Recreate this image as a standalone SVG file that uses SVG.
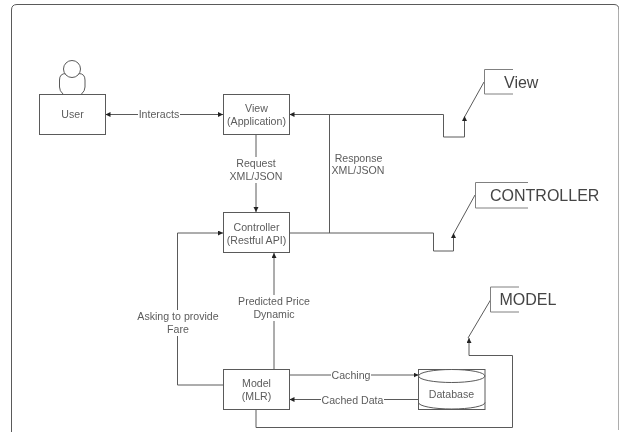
<svg xmlns="http://www.w3.org/2000/svg" width="622" height="432" viewBox="0 0 622 432">
<style>
.n{fill:#fff;stroke:#5a5a5a;stroke-width:1}
.c{fill:none;stroke:#5a5a5a;stroke-width:1}
.t{font-family:"Liberation Sans",Arial,sans-serif;font-size:10.6px;fill:#5c5c5c;text-anchor:middle}
.w{fill:#fff}
.big{font-family:"Liberation Sans",Arial,sans-serif;font-size:16px;fill:#444}
.b{fill:none;stroke:#808080;stroke-width:1}
</style>
<defs>
<marker id="a" markerWidth="6" markerHeight="6" refX="5" refY="2.5" orient="auto" markerUnits="userSpaceOnUse"><path d="M0 0L5 2.5L0 5z" fill="#222"/></marker>
<marker id="s" markerWidth="6" markerHeight="6" refX="0" refY="2.5" orient="auto" markerUnits="userSpaceOnUse"><path d="M5 0L0 2.5L5 5z" fill="#222"/></marker>
<filter id="soft" x="0" y="0" width="100%" height="100%"><feGaussianBlur stdDeviation="0.45"/></filter>
</defs>
<rect width="622" height="432" fill="#fff"/>
<g filter="url(#soft)">
<path d="M11.5 432V10Q11.5 4.500 17 4.500H614Q619 4.500 619 10V430" class="c"/>
<g id="connectors">
<path class="c" d="M105.500 114.500H223" marker-start="url(#s)" marker-end="url(#a)"/>
<path class="c" d="M256 134.500V212" marker-end="url(#a)"/>
<path class="c" d="M443.500 114.500H289.500" marker-end="url(#a)"/>
<path class="c" d="M443.500 114.500V137H464.500V116" marker-end="url(#a)"/>
<path class="c" d="M329.500 114.500V233"/>
<path class="c" d="M289.500 233H433.500V251H453.500V233" marker-end="url(#a)"/>
<path class="c" d="M223 385H177.500V233H223" marker-end="url(#a)"/>
<path class="c" d="M274 369V253" marker-end="url(#a)"/>
<path class="c" d="M289.500 375H418.500" marker-end="url(#a)"/>
<path class="c" d="M418.500 399.500H289.500" marker-end="url(#a)"/>
<path class="c" d="M256 409V427.500H512.500V355.500H469V338" marker-end="url(#a)"/>
<path class="c" d="M464.500 117L484 82"/>
<path class="c" d="M453.500 234L475 195"/>
<path class="c" d="M468 338L490.500 300"/>
</g>
<rect class="w" x="138" y="108" width="42" height="13"/>
<text class="t" x="159" y="118">Interacts</text>
<rect class="w" x="229" y="157" width="54" height="26"/>
<text class="t" x="256" y="167">Request</text>
<text class="t" x="256" y="180">XML/JSON</text>
<text class="t" x="358.500" y="161.500">Response</text>
<text class="t" x="358" y="174">XML/JSON</text>
<rect class="w" x="137" y="310" width="82" height="26"/>
<text class="t" x="178" y="320">Asking to provide</text>
<text class="t" x="178" y="332.500">Fare</text>
<rect class="w" x="237" y="295" width="74" height="26"/>
<text class="t" x="274" y="305">Predicted Price</text>
<text class="t" x="274" y="318">Dynamic</text>
<rect class="w" x="331" y="369" width="40" height="13"/>
<text class="t" x="351" y="379">Caching</text>
<rect class="w" x="321" y="393" width="63" height="14"/>
<text class="t" x="352.500" y="403.500">Cached Data</text>
<g id="user">
<path class="n" d="M63 94Q59.500 91 59.500 87V80Q59.500 73.500 66 73.500H78.500Q85 73.500 85 80V87Q85 91 81.500 94"/>
<circle class="n" cx="72" cy="69" r="8.500"/>
<rect class="n" x="39.500" y="94.500" width="66" height="40"/>
<text class="t" x="72.500" y="118">User</text>
</g>
<g id="view">
<rect class="n" x="223.500" y="94.500" width="66" height="40"/>
<text class="t" x="256.500" y="112">View</text>
<text class="t" x="256.500" y="125">(Application)</text>
</g>
<g id="controller">
<rect class="n" x="223.500" y="212.500" width="66" height="40"/>
<text class="t" x="256.500" y="231">Controller</text>
<text class="t" x="256.500" y="243.500">(Restful API)</text>
</g>
<g id="model">
<rect class="n" x="223.500" y="369.500" width="66" height="40"/>
<text class="t" x="256.500" y="387">Model</text>
<text class="t" x="256.500" y="400">(MLR)</text>
</g>
<g id="database">
<rect class="n" x="418.500" y="369.500" width="66.500" height="40"/>
<ellipse class="n" cx="451.700" cy="376" rx="33.200" ry="6.500"/>
<path class="c" d="M418.500 402.500A33.200 6.500 0 0 0 485 402.500"/>
<text class="t" x="451.500" y="398">Database</text>
</g>
<g id="label-view">
<path class="b" d="M513 69.500H484.500V94H513"/>
<text class="big" x="504" y="88">View</text>
</g>
<g id="label-controller">
<path class="b" d="M528 182.500H475.500V208H528"/>
<text class="big" x="490" y="201">CONTROLLER</text>
</g>
<g id="label-model">
<path class="b" d="M519 287H490.500V312H519"/>
<text class="big" x="499.500" y="305">MODEL</text>
</g>
</g>
</svg>
